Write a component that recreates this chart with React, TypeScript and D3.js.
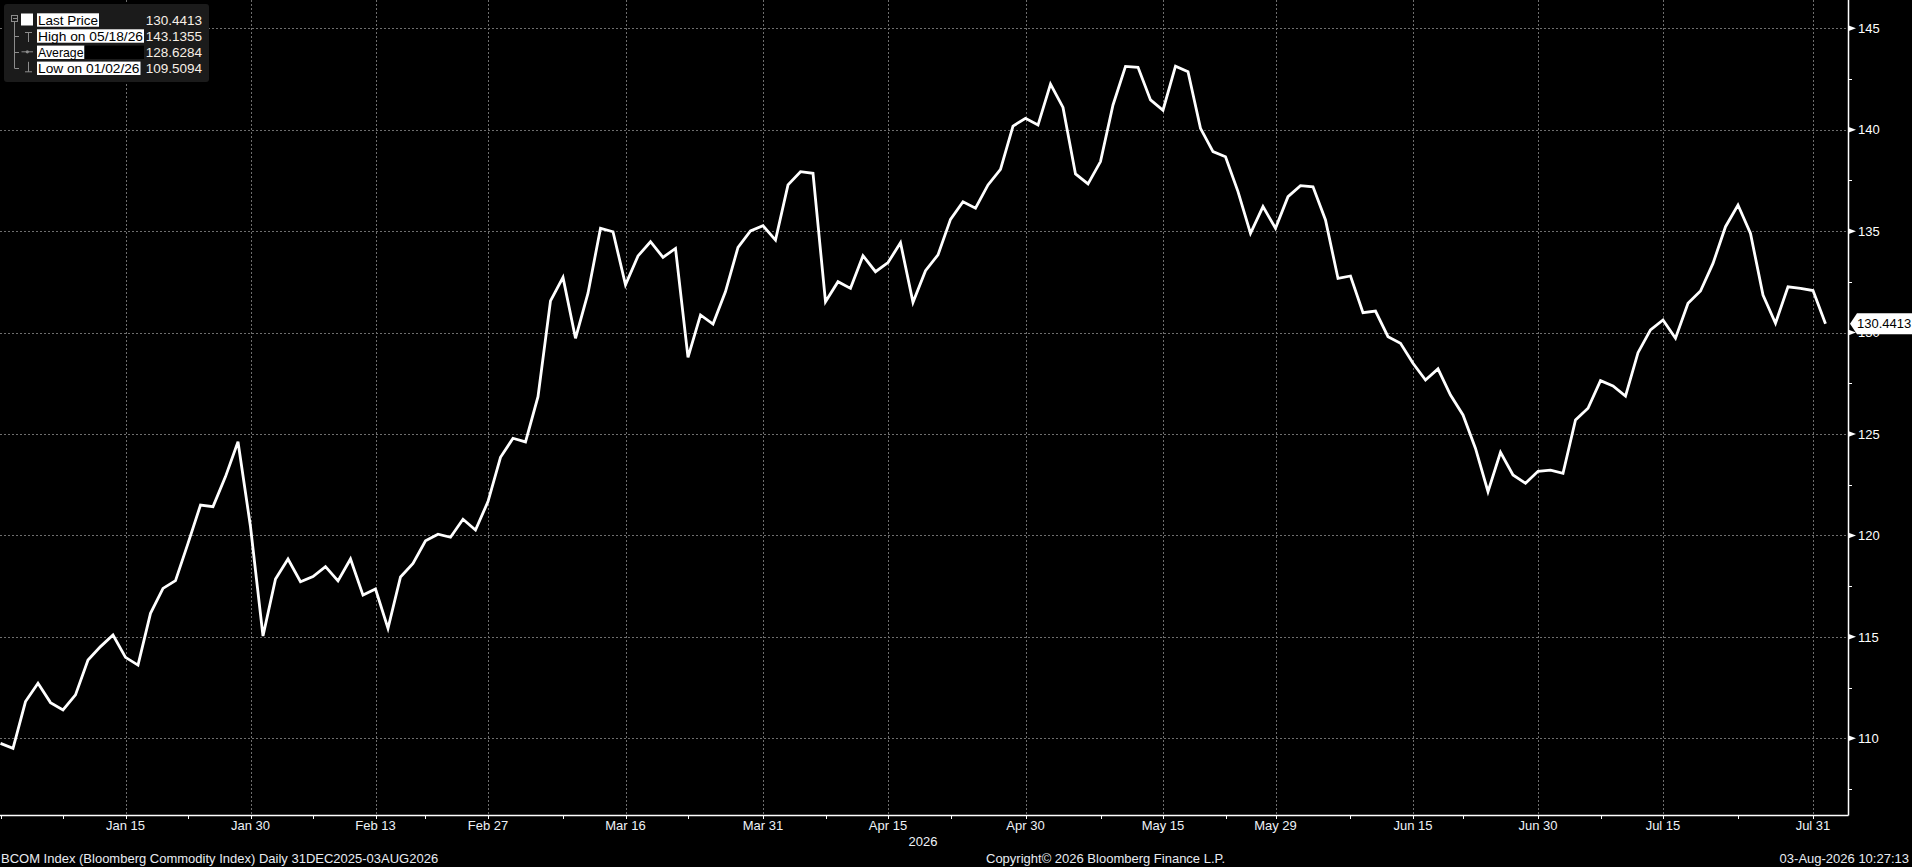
import * as d3 from 'd3';
import React, { useEffect, useRef } from 'react';

const WIDTH = 1912;
const HEIGHT = 867;
const FONT = '"Liberation Sans", Arial, sans-serif';

// trading calendar (exchange holidays are skipped on the x axis)
const startDate = '2025-12-31';
const endDate = '2026-08-03';
const holidays = ['2026-01-01', '2026-01-19', '2026-02-16', '2026-04-03', '2026-05-25', '2026-06-19', '2026-07-03'];

// BCOM daily close, one value per trading day
const lastPrice = [
  109.75, 109.5094, 111.81, 112.71, 111.76, 111.40, 112.14, 113.86, 114.52, 115.09,
  113.99, 113.61, 116.16, 117.39, 117.77, 119.61, 121.50, 121.42, 122.90, 124.62,
  120.43, 115.04, 117.85, 118.84, 117.72, 117.97, 118.46, 117.76, 118.84, 117.06,
  117.36, 115.42, 117.95, 118.62, 119.74, 120.06, 119.91, 120.80, 120.27, 121.67,
  123.85, 124.79, 124.61, 126.84, 131.56, 132.72, 129.72, 131.94, 135.14, 134.97,
  132.35, 133.78, 134.48, 133.71, 134.15, 128.78, 130.87, 130.42, 132.02, 134.20,
  135.01, 135.27, 134.56, 137.28, 137.93, 137.85, 131.52, 132.51, 132.18, 133.79,
  133.00, 133.45, 134.43, 131.49, 133.05, 133.83, 135.58, 136.45, 136.13, 137.28,
  138.05, 140.18, 140.56, 140.23, 142.25, 141.10, 137.82, 137.33, 138.43, 141.22,
  143.12, 143.08, 141.47, 140.96, 143.1355, 142.86, 140.07, 138.92, 138.67, 136.95,
  134.89, 136.21, 135.14, 136.70, 137.24, 137.19, 135.55, 132.67, 132.79, 130.98,
  131.06, 129.80, 129.47, 128.49, 127.66, 128.21, 126.92, 125.94, 124.29, 122.16,
  124.10, 122.98, 122.57, 123.16, 123.22, 123.06, 125.69, 126.27, 127.63, 127.37,
  126.87, 129.01, 130.13, 130.62, 129.72, 131.44, 132.05, 133.41, 135.22, 136.29,
  134.89, 131.85, 130.46, 132.26, 132.18, 132.07, 130.4413,
];

const yTicks = [110, 115, 120, 125, 130, 135, 140, 145];
const yMinorTicks = [107.5, 112.5, 117.5, 122.5, 127.5, 132.5, 137.5, 142.5];

const xTickLabels = [
  { date: '2026-01-15', label: 'Jan 15' },
  { date: '2026-01-30', label: 'Jan 30' },
  { date: '2026-02-13', label: 'Feb 13' },
  { date: '2026-02-27', label: 'Feb 27' },
  { date: '2026-03-16', label: 'Mar 16' },
  { date: '2026-03-31', label: 'Mar 31' },
  { date: '2026-04-15', label: 'Apr 15' },
  { date: '2026-04-30', label: 'Apr 30' },
  { date: '2026-05-15', label: 'May 15' },
  { date: '2026-05-29', label: 'May 29' },
  { date: '2026-06-15', label: 'Jun 15' },
  { date: '2026-06-30', label: 'Jun 30' },
  { date: '2026-07-15', label: 'Jul 15' },
  { date: '2026-07-31', label: 'Jul 31' },
];
const xMinorDates = [
  '2025-12-31', '2026-01-08', '2026-01-23', '2026-02-06', '2026-02-20', '2026-03-09', '2026-03-23',
  '2026-04-08', '2026-04-22', '2026-05-08', '2026-05-22', '2026-06-08', '2026-06-22', '2026-07-08', '2026-07-23',
];

const legendRows = [
  { label: 'Last Price', value: '130.4413', icon: 'swatch' },
  { label: 'High on 05/18/26', value: '143.1355', icon: 'high' },
  { label: 'Average', value: '128.6284', icon: 'avg' },
  { label: 'Low on 01/02/26', value: '109.5094', icon: 'low' },
];

const footerLeft = 'BCOM Index (Bloomberg Commodity Index) Daily 31DEC2025-03AUG2026';
const footerMid = 'Copyright\u00A9 2026 Bloomberg Finance L.P.';
const footerRight = '03-Aug-2026 10:27:13';

function tradingDays(start: string, end: string, skip: string[]) {
  const out: string[] = [];
  const d = new Date(start + 'T00:00:00Z');
  const e = new Date(end + 'T00:00:00Z');
  while (d <= e) {
    const iso = d.toISOString().slice(0, 10);
    const wd = d.getUTCDay();
    if (wd !== 0 && wd !== 6 && !skip.includes(iso)) out.push(iso);
    d.setUTCDate(d.getUTCDate() + 1);
  }
  return out;
}

const App: React.FC = () => {
  const ref = useRef<SVGSVGElement | null>(null);

  useEffect(() => {
    if (!ref.current) return;
    const svg = d3.select(ref.current);
    svg.selectAll('*').remove();

    const days = tradingDays(startDate, endDate, holidays);
    const idx = (date: string) => days.indexOf(date);

    const plotRight = 1848;
    const plotBottom = 815;

    const x = d3.scaleLinear().domain([0, days.length - 1]).range([0.5, 0.5 + (days.length - 1) * 12.5]);
    const y = d3.scaleLinear().domain([110, 145]).range([738.3, 28.3]);

    svg.append('rect').attr('width', WIDTH).attr('height', HEIGHT).attr('fill', '#000');

    // grid
    const grid = svg.append('g').attr('stroke', '#6e6e6e').attr('stroke-width', 1).attr('stroke-dasharray', '2,2');
    grid.selectAll('.hg').data(yTicks).enter().append('line')
      .attr('x1', 0).attr('x2', plotRight)
      .attr('y1', d => Math.round(y(d)) + 0.5).attr('y2', d => Math.round(y(d)) + 0.5);
    grid.selectAll('.vg').data(xTickLabels).enter().append('line')
      .attr('y1', 0).attr('y2', plotBottom)
      .attr('x1', d => Math.round(x(idx(d.date))) + 0.5).attr('x2', d => Math.round(x(idx(d.date))) + 0.5);

    // price line
    const line = d3.line<number>().x((_d, i) => x(i)).y(d => y(d));
    svg.append('path')
      .attr('d', line(lastPrice))
      .attr('fill', 'none')
      .attr('stroke', '#fff')
      .attr('stroke-width', 2.8);

    // axes
    svg.append('line').attr('x1', 0).attr('x2', plotRight + 0.5).attr('y1', plotBottom + 0.5).attr('y2', plotBottom + 0.5)
      .attr('stroke', '#fff').attr('stroke-width', 1.5);
    svg.append('line').attr('x1', plotRight + 0.5).attr('x2', plotRight + 0.5).attr('y1', 0).attr('y2', plotBottom + 0.5)
      .attr('stroke', '#fff').attr('stroke-width', 1.5);

    const xTickPos = [...xTickLabels.map(d => d.date), ...xMinorDates].map(d => Math.round(x(idx(d))) + 0.5);
    svg.selectAll('.xt').data(xTickPos).enter().append('line')
      .attr('x1', d => d).attr('x2', d => d).attr('y1', plotBottom).attr('y2', plotBottom + 4)
      .attr('stroke', '#fff');

    svg.selectAll('.xl').data(xTickLabels).enter().append('text')
      .attr('x', d => x(idx(d.date)))
      .attr('y', 830)
      .attr('text-anchor', 'middle')
      .attr('fill', '#eef2f7')
      .style('font', `13px ${FONT}`)
      .text(d => d.label);

    svg.append('text').attr('x', 923).attr('y', 846).attr('text-anchor', 'middle')
      .attr('fill', '#eef2f7').style('font', `13px ${FONT}`).text('2026');

    // right axis ticks
    svg.selectAll('.ym').data(yMinorTicks).enter().append('line')
      .attr('x1', plotRight).attr('x2', plotRight + 4)
      .attr('y1', d => Math.round(y(d)) + 0.5).attr('y2', d => Math.round(y(d)) + 0.5)
      .attr('stroke', '#fff');
    svg.selectAll('.ytri').data(yTicks).enter().append('path')
      .attr('d', d => `M${plotRight},${y(d) - 3}L${plotRight + 8},${y(d)}L${plotRight},${y(d) + 3}Z`)
      .attr('fill', '#fff');
    svg.selectAll('.yl').data(yTicks).enter().append('text')
      .attr('x', plotRight + 10)
      .attr('y', d => y(d) + 4.7)
      .attr('fill', '#fff')
      .style('font', `13px ${FONT}`)
      .text(d => d);

    // last price tag (sits over the 130 label, as on the terminal)
    const last = lastPrice[lastPrice.length - 1];
    const ly = y(last);
    svg.append('path')
      .attr('d', `M${plotRight + 2},${ly}L${plotRight + 9},${ly - 10.5}H${WIDTH}V${ly + 10.5}H${plotRight + 9}Z`)
      .attr('fill', '#fff');
    svg.append('text').attr('x', plotRight + 9).attr('y', ly + 4.7)
      .attr('fill', '#000').style('font', `13px ${FONT}`).text(d3.format('.4f')(last));

    // legend
    const lg = svg.append('g');
    lg.append('rect').attr('x', 4).attr('y', 4).attr('width', 205).attr('height', 78).attr('rx', 3).attr('fill', '#1b1b1b');
    const rowY = [20, 36, 52.3, 68.3];
    const labelWidths = [60, 105, 45.5, 101.5];
    const treeCol = '#8c8c8c';
    lg.append('rect').attr('x', 11.5).attr('y', 15.5).attr('width', 6).attr('height', 6).attr('fill', 'none').attr('stroke', treeCol);
    lg.append('line').attr('x1', 13).attr('x2', 17).attr('y1', 18.5).attr('y2', 18.5).attr('stroke', treeCol);
    lg.append('line').attr('x1', 14.5).attr('x2', 14.5).attr('y1', 22).attr('y2', rowY[3]).attr('stroke', treeCol);
    rowY.slice(1).forEach(ry => {
      lg.append('line').attr('x1', 14.5).attr('x2', 19).attr('y1', Math.round(ry) + 0.5).attr('y2', Math.round(ry) + 0.5).attr('stroke', treeCol);
    });

    legendRows.forEach((r, i) => {
      const cy = rowY[i];
      if (r.icon === 'swatch') {
        lg.append('rect').attr('x', 21).attr('y', cy - 6.5).attr('width', 12).attr('height', 12).attr('fill', '#fff');
      } else if (r.icon === 'high') {
        lg.append('path').attr('d', `M25,${cy - 3.5}H32M28.5,${cy - 3.5}V${cy + 6}`).attr('stroke', treeCol).attr('fill', 'none');
      } else if (r.icon === 'avg') {
        lg.append('path').attr('d', `M21.5,${cy - 0.5}H33`).attr('stroke', treeCol);
        lg.append('circle').attr('cx', 27.3).attr('cy', cy - 0.5).attr('r', 1.6).attr('fill', treeCol);
      } else {
        lg.append('path').attr('d', `M28.5,${cy - 6.5}V${cy + 3.5}M25,${cy + 3.5}H32`).attr('stroke', treeCol).attr('fill', 'none');
      }
      const w = labelWidths[i];
      lg.append('rect').attr('x', 37).attr('y', cy - 6.7).attr('height', 13.4).attr('width', w + 2).attr('fill', '#fff');
      lg.append('text').attr('x', 38).attr('y', cy + 4.8)
        .attr('fill', '#000').style('font', `13.5px ${FONT}`)
        .attr('textLength', w).attr('lengthAdjust', 'spacingAndGlyphs')
        .text(r.label);
      if (r.icon === 'avg') {
        lg.append('rect').attr('x', 37 + w + 2).attr('y', cy - 6.7).attr('height', 13.4).attr('width', 144 - (37 + w + 2)).attr('fill', '#000');
      }
      lg.append('text').attr('x', 202).attr('y', cy + 4.8).attr('text-anchor', 'end')
        .attr('fill', '#f7efe6').style('font', `13.5px ${FONT}`).text(r.value);
    });

    // footer
    const foot = svg.append('g').attr('fill', '#e8ecf2').style('font', `13px ${FONT}`);
    foot.append('text').attr('x', 1).attr('y', 863).text(footerLeft);
    foot.append('text').attr('x', 986).attr('y', 863).text(footerMid);
    foot.append('text').attr('x', 1909).attr('y', 863).attr('text-anchor', 'end').text(footerRight);
  }, []);

  return (
    <div style={{ position: 'fixed', left: 0, top: 0, width: WIDTH, height: HEIGHT, background: '#000' }}>
      <svg ref={ref} width={WIDTH} height={HEIGHT} style={{ display: 'block' }} />
    </div>
  );
};

export default App;
